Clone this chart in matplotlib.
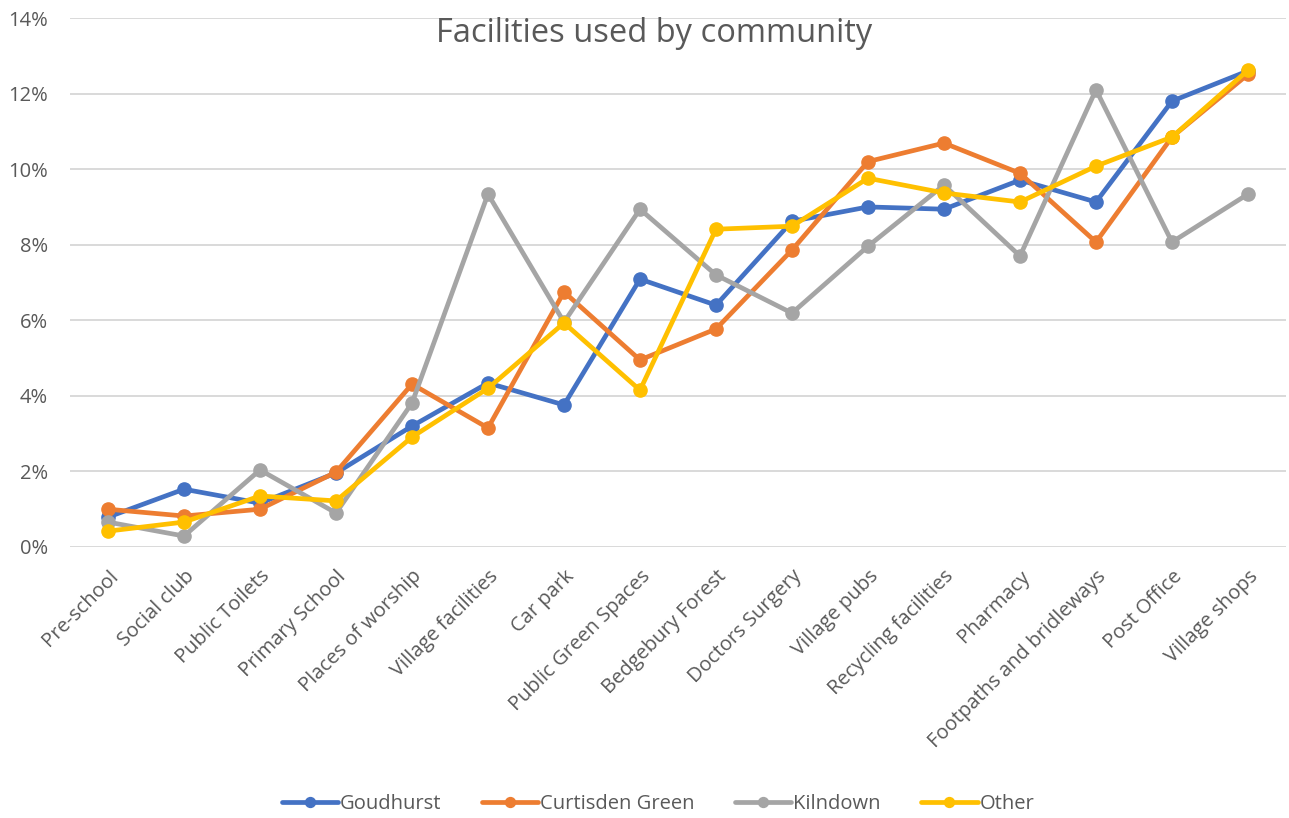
import matplotlib
matplotlib.use("Agg")
import matplotlib.pyplot as plt
from matplotlib.ticker import FuncFormatter

categories = ["Pre-school", "Social club", "Public Toilets", "Primary School",
              "Places of worship", "Village facilities", "Car park",
              "Public Green Spaces", "Bedgebury Forest", "Doctors Surgery",
              "Village pubs", "Recycling facilities", "Pharmacy",
              "Footpaths and bridleways", "Post Office", "Village shops"]

goudhurst = [0.79, 1.53, 1.16, 1.96, 3.20, 4.34, 3.76, 7.09, 6.40, 8.62,
             9.00, 8.94, 9.71, 9.13, 11.80, 12.60]
curtisden = [1.00, 0.82, 1.00, 1.98, 4.31, 3.15, 6.75, 4.95, 5.77, 7.86,
             10.20, 10.69, 9.89, 8.07, 10.85, 12.51]
kilndown = [0.66, 0.29, 2.04, 0.90, 3.81, 9.34, 5.95, 8.94, 7.20, 6.19,
            7.96, 9.58, 7.70, 12.10, 8.07, 9.34]
other = [0.42, 0.66, 1.35, 1.22, 2.91, 4.20, 5.93, 4.15, 8.41, 8.49,
         9.76, 9.37, 9.13, 10.08, 10.85, 12.62]

series_names = ["Goudhurst", "Curtisden Green", "Kilndown", "Other"]
series_values = [goudhurst, curtisden, kilndown, other]
colors = ["#4472C4", "#ED7D31", "#A5A5A5", "#FFC000"]

plt.rcParams['font.family'] = ['Open Sans', 'DejaVu Sans']

fig = plt.figure(figsize=(12.89, 8.18), dpi=100)
ax = fig.add_axes([70/1289, 271/818, 1216/1289, 529/818])

x = list(range(len(categories)))
for name, vals, c in zip(series_names, series_values, colors):
    ax.plot(x, vals, color=c, linewidth=3.4, marker='o', markersize=9.5,
            label=name, solid_capstyle='round', solid_joinstyle='round')

ax.set_xlim(-0.5, len(categories) - 0.5)
ax.set_ylim(0, 14)
ax.set_yticks(range(0, 15, 2))
ax.yaxis.set_major_formatter(FuncFormatter(lambda v, p: f"{int(v)}%"))
ax.set_xticks(x)
ax.set_xticklabels(categories, rotation=45, ha='right', rotation_mode='anchor',
                   fontsize=14.5, color='#595959')
ax.tick_params(axis='y', labelsize=14.5, labelcolor='#595959', length=0, pad=16)
ax.tick_params(axis='x', length=0, pad=14)
ax.grid(axis='y', color='#D9D9D9', linewidth=1.4)
ax.set_axisbelow(True)
for s in ax.spines.values():
    s.set_visible(False)

fig.text(654/1289, 1 - 34/818, "Facilities used by community", ha='center',
         va='center', fontsize=23.5, color='#595959')

leg = fig.legend(loc='center', bbox_to_anchor=(658/1289, 1 - 804/818), ncol=4,
                 frameon=False, fontsize=14.5, handlelength=2.8,
                 columnspacing=2.0, handletextpad=0.1, markerscale=0.75)
for t in leg.get_texts():
    t.set_color('#595959')

fig.savefig("out.png", dpi=100)
